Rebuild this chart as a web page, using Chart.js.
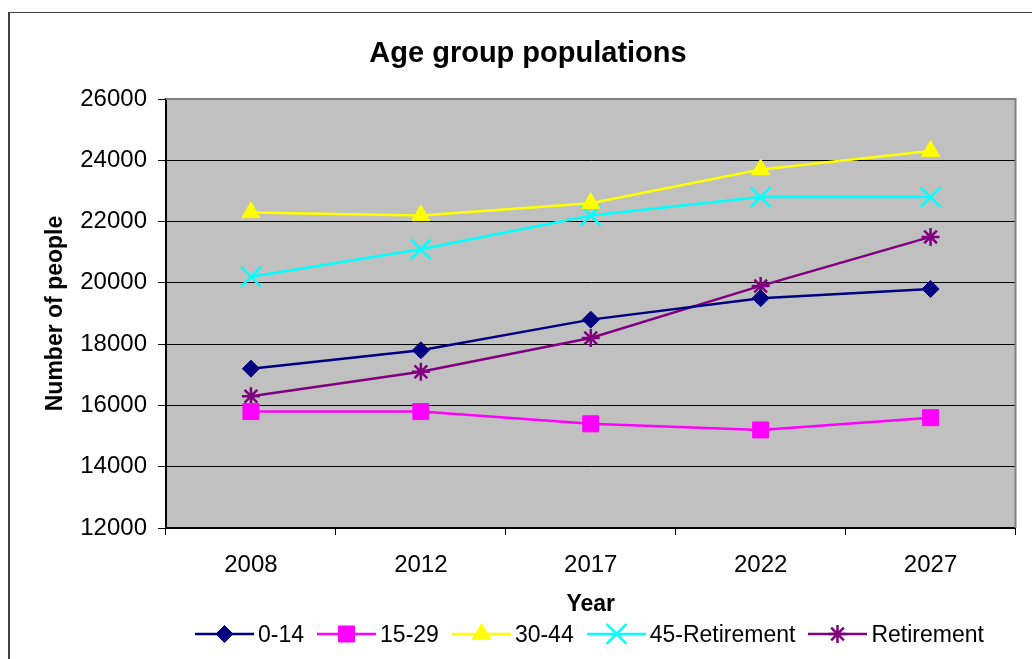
<!DOCTYPE html>
<html>
<head>
<meta charset="utf-8">
<script src="https://cdn.jsdelivr.net/npm/chart.js@4.4.0/dist/chart.umd.min.js"></script>
<style>
  body { margin: 0; background: #fff; font-family: "Liberation Sans", Arial, sans-serif; }
  #wrap { position: relative; width: 1032px; height: 659px; overflow: hidden; }
  #frame { position: absolute; left: 8px; top: 12px; width: 1100px; height: 700px;
           border-left: 2px solid #404040; border-top: 1px solid #404040; }
  #chart { position: absolute; left: 0; top: 0; }
  #legend { position: absolute; left: 195px; top: 622px; height: 24px; display: flex; align-items: center;
            font-size: 23px; color: #000; white-space: nowrap; }
  #legend .item { display: flex; align-items: center; margin-right: 13px; }
  #legend canvas { margin-right: 4px; }
</style>
</head>
<body>
<div id="wrap">
  <div id="frame"></div>
  <canvas id="chart" width="1032" height="659"></canvas>
  <div id="legend"></div>
</div>
<script>
// Population by age group, projected years
var years = ['2008', '2012', '2017', '2022', '2027'];
var age0to14 = [17200, 17800, 18800, 19500, 19800];
var age15to29 = [15800, 15800, 15400, 15200, 15600];
var age30to44 = [22300, 22200, 22600, 23700, 24300];
var age45toRetirement = [20200, 21100, 22200, 22800, 22800];
var retirement = [16300, 17100, 18200, 19900, 21500];

var yMin = 12000, yMax = 26000, yStep = 2000;

var FONT = '"Liberation Sans", Arial, sans-serif';
Chart.defaults.font.family = FONT;
Chart.defaults.color = '#000';

function series(label, data, color, style, radius) {
    return {
        label: label,
        data: data,
        borderColor: color,
        backgroundColor: color,
        borderWidth: 2.5,
        tension: 0,
        fill: false,
        pointStyle: style,
        pointRadius: radius,
        pointHoverRadius: radius,
        pointBackgroundColor: color,
        pointBorderColor: color,
        pointBorderWidth: (style === 'crossRot' || style === 'star') ? 2.5 : 1
    };
}

var datasets = [
    series('0-14', age0to14, '#000080', 'rectRot', 8.5),
    series('15-29', age15to29, '#ff00ff', 'rect', 11.3),
    series('30-44', age30to44, '#ffff00', 'triangle', 10.5),
    series('45-Retirement', age45toRetirement, '#00ffff', 'crossRot', 14),
    series('Retirement', retirement, '#800080', 'star', 9)
];

// grey plot area with the darker frame on top and right
var plotFrame = {
    id: 'plotFrame',
    beforeDraw: function(chart) {
        var a = chart.chartArea, ctx = chart.ctx;
        ctx.save();
        ctx.fillStyle = '#c0c0c0';
        ctx.fillRect(a.left, a.top, a.right - a.left, a.bottom - a.top);
        ctx.restore();
    },
    beforeDatasetsDraw: function(chart) {
        var a = chart.chartArea, ctx = chart.ctx;
        ctx.save();
        ctx.strokeStyle = '#808080';
        ctx.lineWidth = 2;
        ctx.beginPath();
        ctx.moveTo(a.left, a.top);
        ctx.lineTo(a.right, a.top);
        ctx.lineTo(a.right, a.bottom);
        ctx.stroke();
        ctx.restore();
    }
};

var chart = new Chart(document.getElementById('chart'), {
    type: 'line',
    data: { labels: years, datasets: datasets },
    plugins: [plotFrame],
    options: {
        responsive: false,
        animation: false,
        layout: { padding: { left: 32, right: 8, top: 0, bottom: 41 } },
        plugins: {
            legend: { display: false },
            tooltip: { enabled: false },
            title: {
                display: true,
                text: 'Age group populations',
                color: '#000',
                font: { size: 29, weight: 'bold', family: FONT, lineHeight: 1.2 },
                padding: { top: 37, bottom: 27.2 }
            }
        },
        scales: {
            x: {
                offset: true,
                grid: { display: true, drawOnChartArea: false, offset: true, color: '#000', tickLength: 7 },
                border: { display: true, color: '#000', width: 2 },
                ticks: { font: { size: 24 }, color: '#000', padding: 16, maxRotation: 0 },
                title: { display: true, text: 'Year', color: '#000', font: { size: 23, weight: 'bold', lineHeight: 1.2 }, padding: { top: 0, bottom: 0 } },
                afterFit: function(scale) { scale.height = 90; }
            },
            y: {
                min: yMin,
                max: yMax,
                grid: { color: '#000', lineWidth: 1, tickLength: 8 },
                border: { display: true, color: '#000', width: 2 },
                ticks: {
                    stepSize: yStep,
                    font: { size: 24 },
                    color: '#000',
                    padding: 11,
                    callback: function(value) { return String(value); }
                },
                title: { display: true, text: 'Number of people', color: '#000', font: { size: 23, weight: 'bold', lineHeight: 1.2 }, padding: { top: 10, bottom: 0 } },
                afterFit: function(scale) { scale.width = 134; }
            }
        }
    }
});

// legend: short line with the series marker in the middle, then the label
var legendEl = document.getElementById('legend');
datasets.forEach(function(ds) {
    var item = document.createElement('div');
    item.className = 'item';
    var icon = document.createElement('canvas');
    icon.width = 59;
    icon.height = 24;
    var ictx = icon.getContext('2d');
    ictx.strokeStyle = ds.borderColor;
    ictx.fillStyle = ds.backgroundColor;
    ictx.lineWidth = 2.5;
    ictx.beginPath();
    ictx.moveTo(0, 12);
    ictx.lineTo(59, 12);
    ictx.stroke();
    ictx.lineWidth = ds.pointBorderWidth;
    Chart.helpers.drawPoint(ictx, { pointStyle: ds.pointStyle, radius: ds.pointRadius, borderWidth: ds.pointBorderWidth, rotation: 0 }, 29.5, 12);
    var text = document.createElement('span');
    text.textContent = ds.label;
    item.appendChild(icon);
    item.appendChild(text);
    legendEl.appendChild(item);
});
</script>
</body>
</html>
